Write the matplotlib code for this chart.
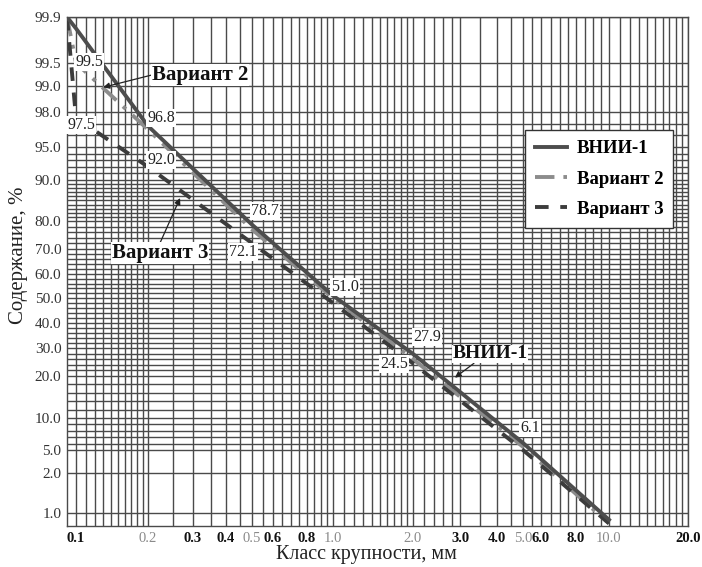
import numpy as np
import matplotlib
matplotlib.use('Agg')
import matplotlib.pyplot as plt
from matplotlib.ticker import FixedLocator, NullFormatter, FixedFormatter

plt.rcParams['font.family'] = ['Liberation Serif', 'DejaVu Serif']

# ---------------- data ----------------
size_mm = [0.09, 0.1, 0.2, 0.5, 1.0, 2.0, 5.0, 10.0]
vnii1 = [99.9, 99.8, 96.8, 78.7, 51.0, 27.9, 6.1, 0.87]
var2 = [99.9, 99.5, 96.5, 77.0, 50.0, 26.0, 5.5, 0.8]
var3 = [99.9, 97.5, 92.0, 72.1, 48.0, 24.5, 5.0, 0.8]

series_names = ['ВНИИ-1', 'Вариант 2', 'Вариант 3']

x_ticks = [0.1, 0.2, 0.3, 0.4, 0.5, 0.6, 0.8, 1.0, 2.0, 3.0, 4.0, 5.0, 6.0, 8.0, 10.0, 20.0]
x_tick_labels = ['0.1', '0.2', '0.3', '0.4', '0.5', '0.6', '0.8', '1.0', '2.0', '3.0',
                 '4.0', '5.0', '6.0', '8.0', '10.0', '20.0']
x_light = ['0.2', '0.5', '1.0', '2.0', '5.0', '10.0']
y_ticks = [1.0, 2.0, 5.0, 10.0, 20.0, 30.0, 40.0, 50.0, 60.0, 70.0, 80.0, 90.0, 95.0,
           98.0, 99.0, 99.5, 99.9]
y_tick_labels = ['%.1f' % v for v in y_ticks]

# ---------------- scale calibration (paper grid of the original chart) ----------------
x_cal_val = [0.001, 0.09, 0.1, 0.2, 0.3, 0.4, 0.5, 0.6, 0.8, 1.0, 2.0, 3.0, 4.0, 5.0,
             6.0, 8.0, 10.0, 20.0, 1000.0]
x_cal_pos = [-200.0, 67, 76, 148, 193, 226, 252, 273, 307, 333, 413, 460, 497, 523,
             541, 576, 609, 688, 1130.0]
y_cal_val = [-1000.0, 0.75, 1.0, 2.0, 5.0, 10.0, 20.0, 30.0, 40.0, 50.0, 60.0, 70.0,
             80.0, 90.0, 95.0, 98.0, 99.0, 99.5, 99.9, 1000.0]
y_cal_pos = [40000.0, 526, 513, 473, 450, 418, 376, 348, 323, 298, 274, 249, 221, 180,
             147, 112, 86, 63, 17, -100000.0]

lx = np.log10(x_cal_val)
xp = np.array(x_cal_pos, float)
yv = np.array(y_cal_val, float)
yp = -np.array(y_cal_pos, float)


def fx(x):
    x = np.clip(np.asarray(x, float), 1e-6, None)
    return np.interp(np.log10(x), lx, xp)


def fx_inv(t):
    return 10 ** np.interp(np.asarray(t, float), xp, lx)


def fy(v):
    return np.interp(np.asarray(v, float), yv, yp)


def fy_inv(t):
    return np.interp(np.asarray(t, float), yp, yv)


minor_x = [0.11, 0.12, 0.13, 0.14, 0.15, 0.16, 0.17, 0.18, 0.19, 0.25, 0.35, 0.45,
           0.55, 0.65, 0.7, 0.75, 0.85, 0.9, 0.95, 1.1, 1.2, 1.3, 1.4, 1.5, 1.6, 1.7,
           1.8, 1.9, 2.2, 2.4, 2.6, 2.8, 3.5, 4.5, 5.5, 6.5, 7.0, 7.5, 8.5, 9.0, 9.5,
           11, 12, 13, 14, 15, 16, 17, 18, 19]
minor_y = [6, 7, 8, 9, 12, 14, 16, 18, 22, 24, 26, 28, 32, 34, 36, 38, 42, 44, 46, 48,
           52, 54, 56, 58, 62, 64, 66, 68, 72, 74, 76, 78, 81, 82, 83, 84, 85, 86, 87,
           88, 89, 91, 92, 93, 94, 96, 97]

# ---------------- figure ----------------
W, H = 702, 567
fig = plt.figure(figsize=(W / 100, H / 100), dpi=100)
ax = fig.add_axes([67 / W, 1 - 526 / H, (688 - 67) / W, (526 - 17) / H])
ax.set_xscale('function', functions=(fx, fx_inv))
ax.set_yscale('function', functions=(fy, fy_inv))
ax.set_xlim(0.09, 20.0)
ax.set_ylim(0.75, 99.9)

grid_col = '#4a4a4a'
ax.xaxis.set_major_locator(FixedLocator(x_ticks))
ax.xaxis.set_major_formatter(FixedFormatter(x_tick_labels))
ax.xaxis.set_minor_locator(FixedLocator(minor_x))
ax.xaxis.set_minor_formatter(NullFormatter())
ax.yaxis.set_major_locator(FixedLocator(y_ticks))
ax.yaxis.set_major_formatter(FixedFormatter(y_tick_labels))
ax.yaxis.set_minor_locator(FixedLocator(minor_y))
ax.yaxis.set_minor_formatter(NullFormatter())
ax.grid(which='both', color=grid_col, lw=1.0)
ax.set_axisbelow(True)
ax.tick_params(which='both', length=0)
ax.tick_params(axis='x', pad=4, labelsize=10.5)
ax.tick_params(axis='y', pad=4, labelsize=11, labelcolor='#333333')
for lab in ax.get_xticklabels():
    if lab.get_text() in x_light:
        lab.set_color('#8a8a8a')
        lab.set_fontweight('normal')
    else:
        lab.set_color('#111111')
        lab.set_fontweight('bold')
for s in ax.spines.values():
    s.set_color(grid_col)
    s.set_linewidth(1.0)

l1, = ax.plot(size_mm, vnii1, color='#4d4d4d', lw=2.8, label=series_names[0], zorder=4)
l2, = ax.plot(size_mm, var2, color='#8c8c8c', lw=2.8, dashes=(5, 2.3, 1, 2.3),
              label=series_names[1], zorder=3)
l3, = ax.plot(size_mm, var3, color='#3c3c3c', lw=2.8, dashes=(3.5, 3),
              label=series_names[2], zorder=3)

leg = ax.legend(handles=[l1, l2, l3], loc='upper left', bbox_to_anchor=(0.7375, 0.778),
                borderaxespad=0, frameon=True, fancybox=False, edgecolor='#333333',
                framealpha=1, handlelength=1.7, handletextpad=0.5, labelspacing=0.7,
                borderpad=0.55, prop={'weight': 'bold', 'size': 13.5})
leg.get_frame().set_linewidth(1.0)


def axfrac(px, py):
    return ((px - 67) / 621.0, (526 - py) / 509.0)


# value labels
val_labels = [('99.5', 89, 62), ('96.8', 161, 118), ('92.0', 161, 160), ('97.5', 81, 125),
              ('78.7', 265, 211), ('72.1', 243, 252), ('51.0', 345, 287),
              ('27.9', 427, 337), ('24.5', 394, 364), ('6.1', 530, 428)]
for txt, px, py in val_labels:
    ax.text(*axfrac(px, py), txt, transform=ax.transAxes, ha='center', va='center',
            fontsize=11.5, color='#222222', zorder=6,
            bbox=dict(facecolor='white', edgecolor='none', pad=0.6))

# callouts
arrow = dict(arrowstyle='-|>', color='#222222', lw=0.9, mutation_scale=9,
             shrinkA=0, shrinkB=0)
ax.annotate('Вариант 2', xy=(0.13, 98.95), xycoords='data',
            xytext=axfrac(200, 75), textcoords='axes fraction', ha='center', va='center',
            fontsize=15, fontweight='bold', color='#111111', zorder=7,
            bbox=dict(facecolor='white', edgecolor='none', pad=0.5),
            arrowprops=dict(arrow, relpos=(0.0, 0.5)))
ax.annotate('Вариант 3', xy=(0.267, 85.6), xycoords='data',
            xytext=axfrac(160, 253), textcoords='axes fraction', ha='center', va='center',
            fontsize=15, fontweight='bold', color='#111111', zorder=7,
            bbox=dict(facecolor='white', edgecolor='none', pad=0.5),
            arrowprops=dict(arrow, relpos=(0.5, 1.0)))
ax.annotate('ВНИИ-1', xy=(2.87, 19.6), xycoords='data',
            xytext=axfrac(490, 354), textcoords='axes fraction', ha='center', va='center',
            fontsize=14, fontweight='bold', color='#111111', zorder=7,
            bbox=dict(facecolor='white', edgecolor='none', pad=0.5),
            arrowprops=dict(arrow, relpos=(0.3, 0.0)))

fig.text(366 / W, 1 - 555 / H, 'Класс крупности, мм', ha='center', va='center',
         fontsize=14.5, color='#222222')
fig.text(19 / W, 1 - 255 / H, 'Содержание, %', ha='center', va='center',
         rotation=90, fontsize=15, color='#222222')

fig.savefig('out.png', dpi=100)
